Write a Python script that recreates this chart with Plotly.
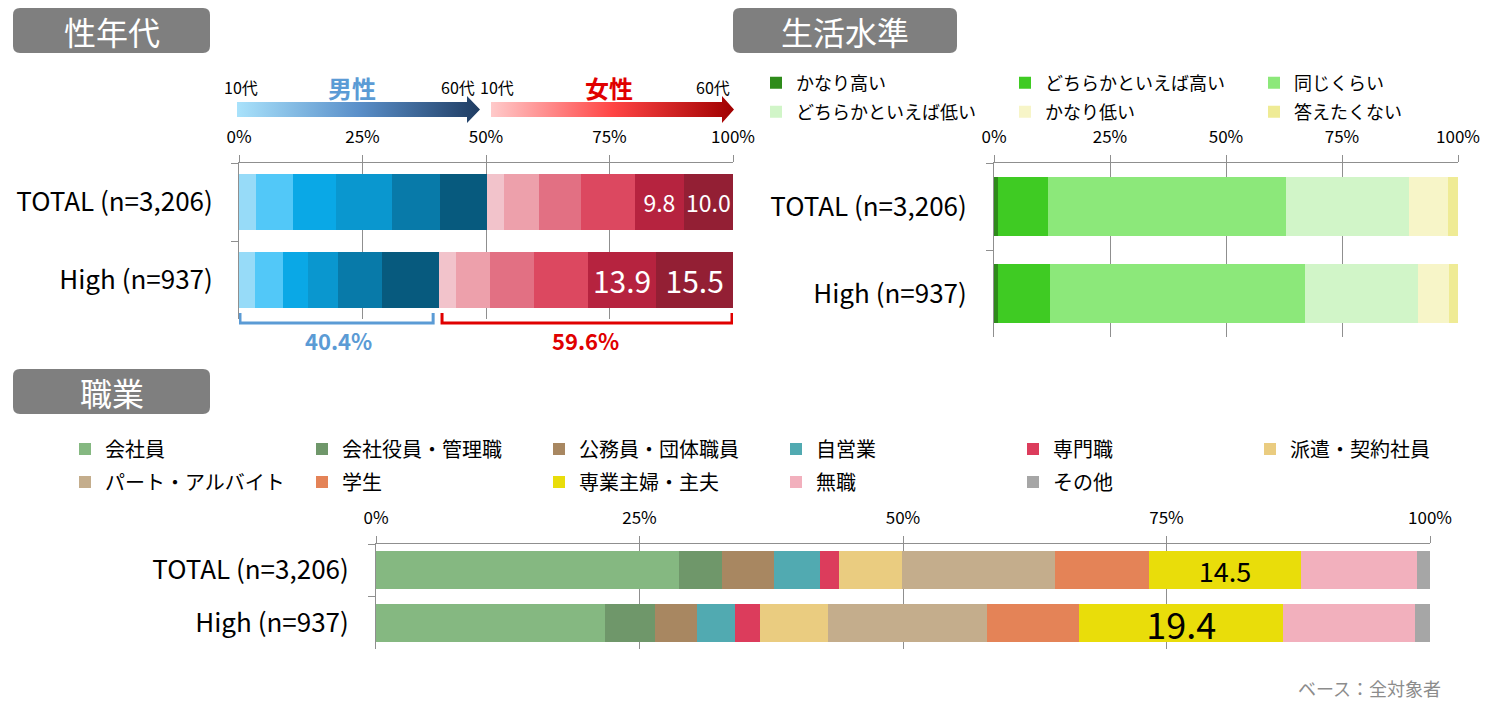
import plotly.graph_objects as go

W, H = 1494, 711
FONT = "Noto Sans CJK JP"

# ---------------- data ----------------
ROWS = ["TOTAL (n=3,206)", "High (n=937)"]

# 性年代
AGE_GROUPS = ["10代", "20代", "30代", "40代", "50代", "60代"]
MALE_TOTAL = [3.4, 7.5, 8.7, 11.4, 9.7, 9.6]
MALE_HIGH = [3.2, 5.7, 5.1, 6.1, 8.9, 11.4]
FEMALE_TOTAL = [3.4, 7.1, 8.5, 10.9, 9.8, 10.0]
FEMALE_HIGH = [3.6, 6.8, 8.9, 10.9, 13.9, 15.5]
MALE_COLORS = ["#97dbf8", "#52c8f8", "#0aa8e6", "#0a97cf", "#087aa9", "#075a7e"]
FEMALE_COLORS = ["#f2c3cb", "#eda0ab", "#e27083", "#dc4860", "#b6233f", "#931f34"]
AGE_LABELED = ["50代", "60代"]  # female groups with value labels

# 生活水準
LEVELS = ["かなり高い", "どちらかといえば高い", "同じくらい",
          "どちらかといえば低い", "かなり低い", "答えたくない"]
LIFE_TOTAL = [0.9, 10.7, 51.3, 26.5, 8.4, 2.2]
LIFE_HIGH = [0.9, 11.2, 54.9, 24.3, 6.7, 2.0]
LIFE_COLORS = ["#2e8b1a", "#3fcb23", "#8ce87a", "#d1f5c8", "#f7f5c8", "#efeb95"]

# 職業
JOBS = ["会社員", "会社役員・管理職", "公務員・団体職員", "自営業", "専門職", "派遣・契約社員",
        "パート・アルバイト", "学生", "専業主婦・主夫", "無職", "その他"]
JOB_TOTAL = [28.7, 4.1, 5.0, 4.3, 1.8, 6.0, 14.5, 8.9, 14.5, 11.0, 1.2]
JOB_HIGH = [21.7, 4.8, 4.0, 3.6, 2.3, 6.5, 15.1, 8.7, 19.4, 12.5, 1.4]
JOB_COLORS = ["#85b881", "#6f976a", "#a88761", "#51aab1", "#dc3c5c", "#eacc80",
              "#c4ad8c", "#e48357", "#e9dd0a", "#f2b0bd", "#a6a6a6"]
JOB_LABELED = ["専業主婦・主夫"]

PCT_TICKS = [0, 25, 50, 75, 100]
PCT_TEXT = ["0%", "25%", "50%", "75%", "100%"]


def xdom(a, b):
    return [a / W, b / W]


def ydom(top, bottom):
    return [1 - bottom / H, 1 - top / H]


fig = go.Figure()

# ---------------- 性年代 bars ----------------
for i, g in enumerate(AGE_GROUPS):
    fig.add_trace(go.Bar(
        y=ROWS, x=[MALE_TOTAL[i], MALE_HIGH[i]], orientation="h", name="男性" + g,
        marker=dict(color=MALE_COLORS[i], line=dict(width=0)), width=0.72,
        xaxis="x", yaxis="y", showlegend=False, hoverinfo="skip"))
for i, g in enumerate(AGE_GROUPS):
    vals = [FEMALE_TOTAL[i], FEMALE_HIGH[i]]
    labeled = g in AGE_LABELED
    fig.add_trace(go.Bar(
        y=ROWS, x=vals, orientation="h", name="女性" + g,
        marker=dict(color=FEMALE_COLORS[i], line=dict(width=0)), width=0.72,
        text=[f"{v:.1f}" for v in vals] if labeled else None,
        textposition="inside" if labeled else "none", insidetextanchor="middle",
        textangle=0, constraintext="none",
        textfont=dict(color="white", size=[23, 30], family=FONT),
        xaxis="x", yaxis="y", showlegend=False, hoverinfo="skip"))

# ---------------- 生活水準 bars ----------------
for i, lv in enumerate(LEVELS):
    fig.add_trace(go.Bar(
        y=ROWS, x=[LIFE_TOTAL[i], LIFE_HIGH[i]], orientation="h", name=lv,
        marker=dict(color=LIFE_COLORS[i], line=dict(width=0)), width=0.667,
        xaxis="x2", yaxis="y2", legend="legend2" if i < 3 else "legend3",
        legendwidth=130 if i % 3 == 2 else None,
        hoverinfo="skip"))

# ---------------- 職業 bars ----------------
for i, jb in enumerate(JOBS):
    vals = [JOB_TOTAL[i], JOB_HIGH[i]]
    labeled = jb in JOB_LABELED
    fig.add_trace(go.Bar(
        y=ROWS, x=vals, orientation="h", name=jb,
        marker=dict(color=JOB_COLORS[i], line=dict(width=0)), width=0.72,
        text=[f"{v:.1f}" for v in vals] if labeled else None,
        textposition="inside" if labeled else "none", insidetextanchor="middle",
        textangle=0, constraintext="none",
        textfont=dict(color="black", size=[27, 36], family=FONT),
        xaxis="x3", yaxis="y3", legend="legend4" if i < 6 else "legend5",
        legendwidth=150 if i in (5, 10) else None,
        hoverinfo="skip"))

# ---------------- decorative arrows (pixel overlay axis) ----------------
BLUE_ARROW = ([237, 467, 467, 480, 467, 467, 237, 237],
              [102, 102, 96, 109.5, 123, 117, 117, 102])
RED_ARROW = ([491, 722, 722, 734, 722, 722, 491, 491],
             [102, 102, 96, 109.5, 123, 117, 117, 102])
fig.add_trace(go.Scatter(
    x=BLUE_ARROW[0], y=BLUE_ARROW[1], mode="lines", fill="toself",
    line=dict(width=0, color="rgba(0,0,0,0)"),
    fillgradient=dict(type="horizontal",
                      colorscale=[[0, "#a9e2fb"], [0.5, "#5a8fc9"], [1, "#1f3c62"]]),
    xaxis="x4", yaxis="y4", showlegend=False, hoverinfo="skip"))
fig.add_trace(go.Scatter(
    x=RED_ARROW[0], y=RED_ARROW[1], mode="lines", fill="toself",
    line=dict(width=0, color="rgba(0,0,0,0)"),
    fillgradient=dict(type="horizontal",
                      colorscale=[[0, "#ffcaca"], [0.5, "#ff4545"], [1, "#a00000"]]),
    xaxis="x4", yaxis="y4", showlegend=False, hoverinfo="skip"))

GRID = "#8f8f8f"
TICKFONT = dict(size=17, color="black", family=FONT)


def xaxis_cfg(dom):
    return dict(domain=dom, range=[0, 100], side="top", tickvals=PCT_TICKS,
                ticktext=PCT_TEXT, ticks="outside", ticklen=7, tickcolor=GRID,
                showgrid=True, gridcolor=GRID, gridwidth=1, showline=True,
                linecolor=GRID, linewidth=1, zeroline=False, tickfont=TICKFONT,
                ticklabelstandoff=5, fixedrange=True, automargin=False)


def yaxis_cfg(dom, anchor, size=26, standoff=20):
    return dict(domain=dom, anchor=anchor, autorange="reversed", type="category",
                tickson="boundaries", ticks="outside", ticklen=7, tickcolor=GRID,
                showline=True, linecolor=GRID, linewidth=1, showgrid=False,
                tickfont=dict(size=size, color="black", family=FONT),
                ticklabelstandoff=standoff, fixedrange=True, automargin=False)


def rrect(x0, y0, x1, y1, r):
    return (f"M{x0+r},{y0} L{x1-r},{y0} Q{x1},{y0} {x1},{y0+r} L{x1},{y1-r} "
            f"Q{x1},{y1} {x1-r},{y1} L{x0+r},{y1} Q{x0},{y1} {x0},{y1-r} "
            f"L{x0},{y0+r} Q{x0},{y0} {x0+r},{y0} Z")


male_high_sum = sum(MALE_HIGH)
female_high_sum = sum(FEMALE_HIGH)

shapes = []
for (x0, y0, x1, y1) in [(13, 8, 210, 53), (733, 8, 957, 53), (13, 369, 210, 414)]:
    shapes.append(dict(type="path", xref="x4", yref="y4", path=rrect(x0, y0, x1, y1, 7),
                       fillcolor="#7f7f7f", line=dict(width=0), layer="below"))
# brackets under High row (x in data %, y in pixels)
bl0, bl1 = 0.2, male_high_sum - 1.1
rd0, rd1 = male_high_sum + 0.7, 99.8
shapes.append(dict(type="path", xref="x", yref="y4",
                   path=f"M{bl0},313 L{bl0},323 L{bl1},323 L{bl1},313",
                   line=dict(color="#5b9bd5", width=3)))
shapes.append(dict(type="path", xref="x", yref="y4",
                   path=f"M{rd0},313 L{rd0},323 L{rd1},323 L{rd1},313",
                   line=dict(color="#e00000", width=3)))

annotations = [
    dict(text="性年代", x=112, y=31, xref="x4", yref="y4", showarrow=False,
         font=dict(size=32, color="white", family=FONT)),
    dict(text="生活水準", x=845, y=31, xref="x4", yref="y4", showarrow=False,
         font=dict(size=32, color="white", family=FONT)),
    dict(text="職業", x=112, y=392, xref="x4", yref="y4", showarrow=False,
         font=dict(size=32, color="white", family=FONT)),
    dict(text="10代", x=222, y=87, xref="x4", yref="y4", xanchor="left", showarrow=False,
         font=dict(size=16, color="black", family=FONT)),
    dict(text="<b>男性</b>", x=352, y=87, xref="x4", yref="y4", showarrow=False,
         font=dict(size=24, color="#5b9bd5", family=FONT)),
    dict(text="60代", x=477, y=87, xref="x4", yref="y4", xanchor="right", showarrow=False,
         font=dict(size=16, color="black", family=FONT)),
    dict(text="10代", x=478, y=87, xref="x4", yref="y4", xanchor="left", showarrow=False,
         font=dict(size=16, color="black", family=FONT)),
    dict(text="<b>女性</b>", x=609, y=87, xref="x4", yref="y4", showarrow=False,
         font=dict(size=24, color="#e00000", family=FONT)),
    dict(text="60代", x=732, y=87, xref="x4", yref="y4", xanchor="right", showarrow=False,
         font=dict(size=16, color="black", family=FONT)),
    dict(text=f"<b>{male_high_sum:.1f}%</b>", x=male_high_sum / 2, y=340, xref="x", yref="y4",
         showarrow=False, font=dict(size=22, color="#5b9bd5", family=FONT)),
    dict(text=f"<b>{female_high_sum:.1f}%</b>", x=(male_high_sum + 100) / 2, y=340,
         xref="x", yref="y4", showarrow=False,
         font=dict(size=22, color="#e00000", family=FONT)),
    dict(text="ベース：全対象者", x=1443, y=688, xref="x4", yref="y4", xanchor="right",
         showarrow=False, font=dict(size=18, color="#8c8c8c", family=FONT)),
]

LEG_LIFE = dict(orientation="h", x=756 / W, xanchor="left", yanchor="middle",
                entrywidth=204, entrywidthmode="pixels", bgcolor="rgba(0,0,0,0)",
                font=dict(size=18, color="black", family=FONT), traceorder="normal")
LEG_JOB = dict(orientation="h", x=65 / W, xanchor="left", yanchor="middle",
               entrywidth=192, entrywidthmode="pixels", bgcolor="rgba(0,0,0,0)",
               font=dict(size=20, color="black", family=FONT), traceorder="normal")

fig.update_layout(
    width=W, height=H, margin=dict(l=0, r=0, t=0, b=0, autoexpand=False),
    paper_bgcolor="white", plot_bgcolor="rgba(0,0,0,0)",
    barmode="stack", font=dict(family=FONT, color="black"),
    xaxis=xaxis_cfg(xdom(239, 733)) | dict(anchor="y"),
    yaxis=yaxis_cfg(ydom(163, 319), "x", standoff=20),
    xaxis2=xaxis_cfg(xdom(994, 1458)) | dict(anchor="y2"),
    yaxis2=yaxis_cfg(ydom(163, 337), "x2", standoff=21),
    xaxis3=xaxis_cfg(xdom(376, 1430)) | dict(anchor="y3"),
    yaxis3=yaxis_cfg(ydom(544, 649), "x3", size=26, standoff=21),
    xaxis4=dict(domain=[0, 1], range=[0, W], visible=False, fixedrange=True, anchor="y4"),
    yaxis4=dict(domain=[0, 1], range=[H, 0], visible=False, fixedrange=True, anchor="x4"),
    legend2=LEG_LIFE | dict(y=1 - 83 / H),
    legend3=LEG_LIFE | dict(y=1 - 112 / H),
    legend4=LEG_JOB | dict(y=1 - 449 / H),
    legend5=LEG_JOB | dict(y=1 - 482 / H),
    shapes=shapes, annotations=annotations,
)

fig.write_html("out.html", config={"displayModeBar": False})
